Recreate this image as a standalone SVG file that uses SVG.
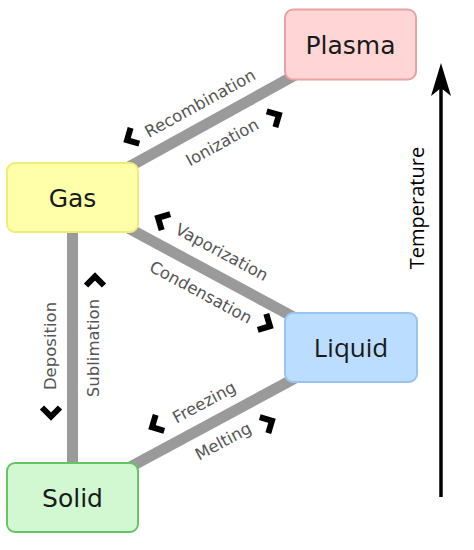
<svg xmlns="http://www.w3.org/2000/svg" width="474" height="550" viewBox="0 0 474 550">
<style>
.conn{stroke:#9a9a9a;stroke-width:11;fill:none}
.box{stroke-width:2}
.name{font-family:"DejaVu Sans",sans-serif;font-size:25px;fill:#1a1a1a;text-anchor:middle}
.lbl{font-family:"DejaVu Sans",sans-serif;font-size:16.5px;fill:#555;text-anchor:middle}
.chev{stroke:#000;stroke-width:6;fill:none;stroke-linejoin:miter;stroke-linecap:butt}
</style>
<defs>
<path id="chl" d="M4.5,-9 L-4.5,0 L4.5,9"/>
<path id="chr" d="M-4.5,-9 L4.5,0 L-4.5,9"/>
</defs>
<rect width="474" height="550" fill="#fff"/>
<g id="connectors">
<line class="conn" x1="72.5" y1="198" x2="350.5" y2="44.5"/>
<line class="conn" x1="72.5" y1="198" x2="351" y2="348"/>
<line class="conn" x1="72.5" y1="198" x2="72.5" y2="498"/>
<line class="conn" x1="72.5" y1="498" x2="351" y2="348"/>
<g class="chev">
<use href="#chl" transform="translate(131,138) rotate(-28.8)"/>
<use href="#chr" transform="translate(275,117) rotate(-28.8)"/>
<use href="#chl" transform="translate(162,220) rotate(28.3)"/>
<use href="#chr" transform="translate(266,324) rotate(28.3)"/>
<use href="#chl" transform="translate(51,412) rotate(-90)"/>
<use href="#chl" transform="translate(95,281) rotate(90)"/>
<use href="#chl" transform="translate(156,425) rotate(-28.3)"/>
<use href="#chr" transform="translate(268,423) rotate(-28.3)"/>
</g>
<text class="lbl" transform="translate(200,103) rotate(-28.8)" y="6">Recombination</text>
<text class="lbl" transform="translate(222,142) rotate(-28.8)" y="6">Ionization</text>
<text class="lbl" transform="translate(222,252) rotate(28.3)" y="6">Vaporization</text>
<text class="lbl" transform="translate(201,292) rotate(28.3)" y="6">Condensation</text>
<text class="lbl" transform="translate(50,346) rotate(-90)" y="6">Deposition</text>
<text class="lbl" transform="translate(93,348) rotate(-90)" y="6">Sublimation</text>
<text class="lbl" transform="translate(204,402) rotate(-28.3)" y="6">Freezing</text>
<text class="lbl" transform="translate(223,441) rotate(-28.3)" y="6">Melting</text>
</g>
<g id="plasma">
<rect class="box" x="285" y="9.5" width="131" height="70" rx="8" fill="#ffd5d5" stroke="#e8a2a2"/>
<text class="name" x="350.5" y="53.5">Plasma</text>
</g>
<g id="gas">
<rect class="box" x="7" y="163" width="131" height="69" rx="8" fill="#ffffaa" stroke="#eeee77"/>
<text class="name" x="72.5" y="206.5">Gas</text>
</g>
<g id="liquid">
<rect class="box" x="285" y="313" width="132" height="69" rx="8" fill="#bbddff" stroke="#99c4ee"/>
<text class="name" x="351" y="357" style="font-family:'Open Sans',sans-serif;font-size:26px">Liquid</text>
</g>
<g id="solid">
<rect class="box" x="7" y="463" width="131" height="69" rx="8" fill="#d2f8d2" stroke="#66c466"/>
<text class="name" x="72.5" y="506.5">Solid</text>
</g>
<g id="temperature">
<line x1="441" y1="497" x2="441" y2="80" stroke="#000" stroke-width="3.5"/>
<path d="M441,63 L451,96 L441,88 L431,96 Z" fill="#000"/>
<text transform="translate(417,208) rotate(-90)" y="7" text-anchor="middle" style="font-family:'Open Sans',sans-serif;font-size:20px;fill:#000">Temperature</text>
</g>
</svg>
